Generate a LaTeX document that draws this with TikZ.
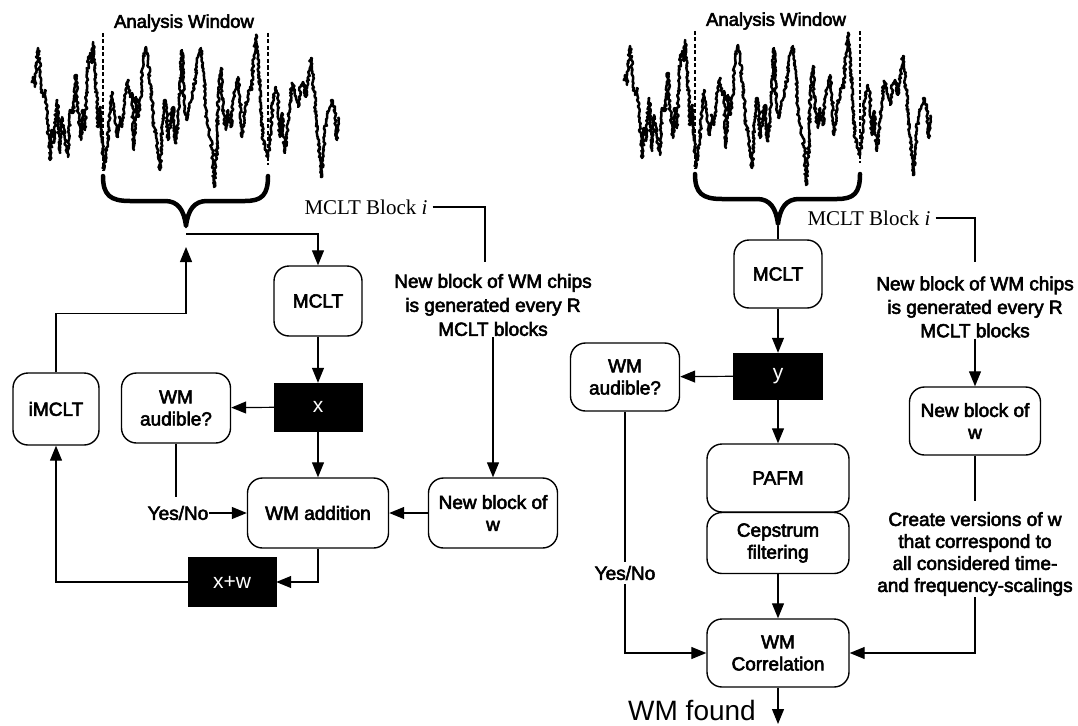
\documentclass[tikz,border=0pt]{standalone}
\usepackage{fontspec}
\setmainfont{Liberation Sans}
\newfontfamily\hv[FakeBold=3]{Liberation Sans}
\newfontfamily\tnr{Liberation Serif}
\usetikzlibrary{arrows.meta,decorations.pathmorphing}
\tikzset{
 rbox/.style={draw, line width=1.4pt, rounded corners=15pt, align=center, inner sep=0pt, font=\hv\fontsize{19}{22}\selectfont},
 bbox/.style={fill=black, draw=black, inner sep=0pt, text=white, font=\fontsize{21}{24}\selectfont},
 lbl/.style={align=center, inner sep=1pt, font=\hv\fontsize{19}{24}\selectfont},
 serif/.style={inner sep=1pt, font=\tnr\fontsize{21}{24}\selectfont},
 conn/.style={line width=1.2pt},
 arr/.style={conn, -{Triangle[length=15pt,width=12pt]}},
 wave/.style={line width=2.5pt, line join=round, decorate, decoration={random steps, segment length=1.6pt, amplitude=1.3pt}},
 brace/.style={line width=4.5pt, line cap=round, line join=round},
 dsh/.style={line width=1.8pt, dash pattern=on 4pt off 2.5pt},
 wavepic/.pic={
  \draw[dsh] (103,33) -- (103,170);
  \draw[dsh] (268,33) -- (268,165);
  \draw[wave] (32,83) -- (33,77) -- (35,87) -- (38,48) -- (40,70) -- (42,90) -- (43,97) -- (45,90) -- (47,117) -- (49,143) -- (50,160) -- (52,130) -- (54,143) -- (57,100) -- (58,117) -- (60,153) -- (62,117) -- (65,140) -- (68,157) -- (70,110) -- (73,113) -- (76,75) -- (78,110) -- (81,140) -- (83,110) -- (85,130) -- (88,60) -- (90,53) -- (92,63) -- (93,42) -- (95,73) -- (97,97) -- (98,127) -- (100,107) -- (102,140) -- (104,170) -- (107,147) -- (110,113) -- (112,92) -- (115,123) -- (118,137) -- (120,117) -- (122,127) -- (125,97) -- (128,80) -- (130,97) -- (132,93) -- (134,150) -- (136,97) -- (138,117) -- (141,97) -- (143,60) -- (146,47) -- (148,60) -- (151,90) -- (154,127) -- (157,140) -- (158,150) -- (160,170) -- (162,130) -- (165,100) -- (167,117) -- (168,140) -- (171,113) -- (173,107) -- (175,143) -- (178,123) -- (180,90) -- (182,50) -- (184,103) -- (187,120) -- (189,104) -- (192,97) -- (195,80) -- (198,57) -- (201,48) -- (203,63) -- (206,113) -- (208,127) -- (211,140) -- (213,163) -- (214,187) -- (217,147) -- (218,97) -- (221,68) -- (223,113) -- (226,130) -- (228,110) -- (231,127) -- (233,103) -- (236,83) -- (238,77) -- (240,97) -- (242,137) -- (245,107) -- (248,97) -- (250,87) -- (252,90) -- (253,63) -- (256,35) -- (258,57) -- (261,103) -- (263,140) -- (266,150) -- (268,157) -- (271,130) -- (273,97) -- (276,87) -- (278,100) -- (280,137) -- (282,113) -- (285,153) -- (288,123) -- (290,103) -- (292,83) -- (295,90) -- (298,107) -- (301,85) -- (303,82) -- (306,97) -- (308,83) -- (311,58) -- (313,80) -- (316,113) -- (318,137) -- (320,160) -- (321,177) -- (323,157) -- (325,130) -- (328,113) -- (330,107) -- (332,100) -- (335,113) -- (337,140) -- (338,117);
  \draw[brace] (103,176) .. controls (103,195) and (110,201) .. (130,201) -- (165,201) .. controls (178,201) and (184,210) .. (186,226) .. controls (188,210) and (194,201) .. (207,201) -- (245,201) .. controls (262,201) and (268,195) .. (268,176);
  \node[font=\hv\fontsize{18.5}{20}\selectfont] (-aw) at (184,23) {Analysis Window};
  \coordinate (-tip) at (186,228);
 }
}
\begin{document}
\begin{tikzpicture}[x=1pt,y=-1pt]
\useasboundingbox (0,0) rectangle (1078,725);

% waveforms
\pgfmathsetseed{7}
\pic (Lw) at (0,0) {wavepic};
\pgfmathsetseed{7}
\pic (Rw) at (592,-2) {wavepic};

% ---------- left diagram ----------
\node[rbox, minimum width=86pt, minimum height=72pt] (imclt) at (56,409) {iMCLT};
\node[rbox, minimum width=109pt, minimum height=70pt] (aud1) at (176,408) {WM\\audible?};
\node[bbox, minimum width=88pt, minimum height=48pt] (x) at (318,407) {x};
\node[rbox, minimum width=88pt, minimum height=70pt] (mclt1) at (318,301) {MCLT};
\node[rbox, minimum width=141pt, minimum height=70pt] (add) at (318,513) {WM addition};
\node[rbox, minimum width=129pt, minimum height=70pt] (nb1) at (493,513) {New block of\\w};
\node[bbox, minimum width=88pt, minimum height=49pt] (xw) at (232,582) {x+w};
\node[lbl] (chips1) at (493,305) {New block of WM chips\\is generated every R\\MCLT blocks};
\node[serif] (blk1) at (366,207) {MCLT Block \textit{i}};
\node[lbl] (yn1) at (178,513) {Yes/No};
\coordinate (Ljoin) at (186,234);
\coordinate (Lup) at (186,247);
\coordinate (Lblk) at (485,262);

\draw[arr] (Ljoin) -| (mclt1.north);
\draw[arr] (imclt.north) -- ++(0,-59) -| (Lup);
\draw[arr] (mclt1) -- (x);
\draw[arr] (x) -- (aud1);
\draw[arr] (x) -- (add);
\draw[conn] (aud1.south) -- ++(0,53);
\draw[arr] (yn1) -- (add);
\draw[arr] (nb1) -- (add);
\draw[arr] (chips1) -- (nb1);
\draw[conn, shorten <=4pt] (blk1.east) -| (Lblk);
\draw[arr] (add.south) |- (xw.east);
\draw[arr] (xw.west) -| (imclt.south);

% ---------- right diagram ----------
\node[rbox, minimum width=88pt, minimum height=68pt] (mclt2) at (778,274) {MCLT};
\node[bbox, minimum width=89pt, minimum height=46pt] (y) at (778,376) {y};
\node[rbox, minimum width=109pt, minimum height=68pt] (aud2) at (625,377) {WM\\audible?};
\node[rbox, minimum width=142pt, minimum height=68pt] (pafm) at (778,478) {PAFM};
\node[rbox, minimum width=142pt, minimum height=61pt] (ceps) at (778,543) {Cepstrum\\filtering};
\node[rbox, minimum width=142pt, minimum height=68pt] (corr) at (778,653) {WM\\Correlation};
\node[rbox, minimum width=131pt, minimum height=68pt] (nb2) at (975,421) {New block of\\w};
\node[lbl, font=\hv\fontsize{19}{23.5}\selectfont] (chips2) at (975,307) {New block of WM chips\\is generated every R\\MCLT blocks};
\node[lbl, font=\hv\fontsize{19}{22}\selectfont] (create) at (975,554) {Create versions of w\\that correspond to\\all considered time-\\and frequency-scalings};
\node[serif] (blk2) at (869,218) {MCLT Block \textit{i}};
\node[font=\fontsize{28}{30}\selectfont, inner sep=1pt] (found) at (692,710) {WM found};
\coordinate (Rend) at (778,724);
\coordinate (Rblk) at (975,262);

\draw[conn] (Rw-tip) -- (mclt2.north);
\draw[arr] (mclt2) -- (y);
\draw[arr] (y) -- (aud2);
\draw[arr] (y) -- (pafm);
\draw[arr] (ceps) -- (corr);
\draw[arr] (aud2.south) |- (corr.west);
\node[lbl, fill=white, inner sep=4pt] (yn2) at (625,573) {Yes/No};
\draw[conn, shorten <=4pt] (blk2.east) -| (Rblk);
\draw[arr] (chips2) -- (nb2);
\draw[conn] (nb2.south) -- ++(0,45);
\draw[arr] (create.south) |- (corr.east);
\draw[arr] (corr.south) -- (Rend);
\end{tikzpicture}
\end{document}
